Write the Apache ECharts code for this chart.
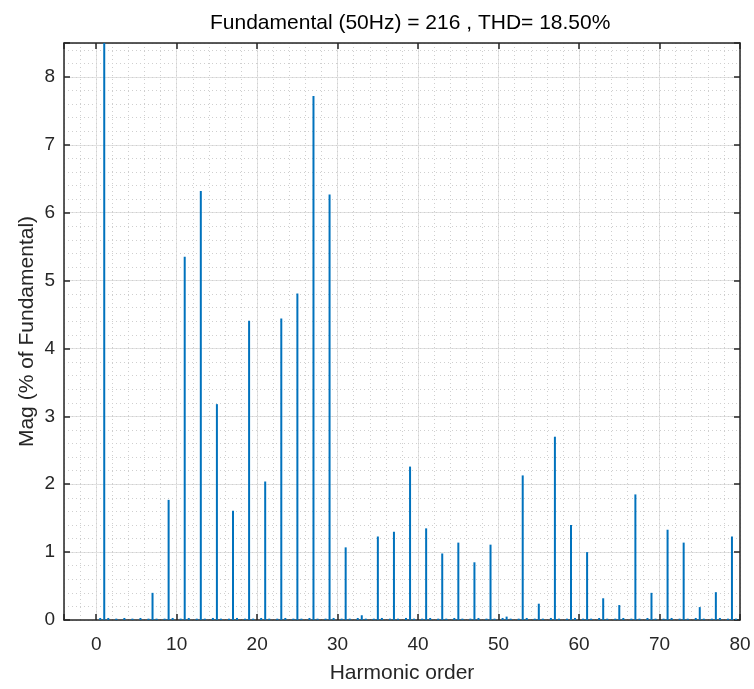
<!DOCTYPE html>
<html>
<head>
  <meta charset="UTF-8">
  <title>Harmonic spectrum</title>
  <script src="https://cdn.jsdelivr.net/npm/echarts@6/dist/echarts.min.js"></script>
  <style>
    body { margin: 0; background: #fff; }
    #chart { width: 754px; height: 689px; }
  </style>
</head>
<body>
<div id="chart"></div>
<script>
  // odd harmonics (order, % of fundamental)
  const harmonicOrders = [1, 7, 9, 11, 13, 15, 17, 19, 21, 23, 25, 27, 29, 31, 33, 35, 37, 39,
    41, 43, 45, 47, 49, 51, 53, 55, 57, 59, 61, 63, 65, 67, 69, 71, 73, 75, 77, 79];
  const harmonicMags = [100, 0.40, 1.77, 5.35, 6.32, 3.18, 1.61, 4.41, 2.04, 4.44, 4.81, 7.72, 6.27, 1.07, 0.07, 1.23, 1.30, 2.26,
    1.35, 0.98, 1.14, 0.85, 1.11, 0.05, 2.13, 0.24, 2.70, 1.40, 1.00, 0.32, 0.22, 1.85, 0.40, 1.33, 1.14, 0.19, 0.41, 1.23];

  // tiny interharmonic components
  const interOrders = [0.5, 1.5, 2.5, 3.5, 4.5, 5.5, 6.5, 7.5, 8.5, 9.5, 10.5, 11.5, 12.5, 13.5, 14.5, 15.5, 16.5, 17.5, 18.5, 19.5,
    20.5, 21.5, 22.5, 23.5, 24.5, 25.5, 26.5, 27.5, 28.5, 29.5, 30.5, 31.5, 32.5, 33.5, 34.5, 35.5, 36.5, 37.5, 38.5, 39.5,
    40.5, 41.5, 42.5, 43.5, 44.5, 45.5, 46.5, 47.5, 48.5, 49.5, 50.5, 51.5, 52.5, 53.5, 54.5, 55.5, 56.5, 57.5, 58.5, 59.5,
    60.5, 61.5, 62.5, 63.5, 64.5, 65.5, 66.5, 67.5, 68.5, 69.5, 70.5, 71.5, 72.5, 73.5, 74.5, 75.5, 76.5, 77.5, 78.5, 79.5];
  const interMags = [0.03, 0.03, 0.02, 0.03, 0.02, 0.03, 0.02, 0.02, 0.02, 0.03, 0.02, 0.03, 0.02, 0.02, 0.03, 0.02, 0.02, 0.03, 0.02, 0.02,
    0.03, 0.02, 0.02, 0.03, 0.02, 0.02, 0.03, 0.02, 0.02, 0.03, 0.02, 0.02, 0.03, 0.02, 0.02, 0.03, 0.02, 0.02, 0.03, 0.02,
    0.02, 0.03, 0.02, 0.02, 0.03, 0.02, 0.02, 0.03, 0.02, 0.02, 0.03, 0.02, 0.02, 0.03, 0.02, 0.02, 0.03, 0.02, 0.02, 0.03,
    0.02, 0.02, 0.03, 0.02, 0.02, 0.03, 0.02, 0.02, 0.03, 0.02, 0.02, 0.03, 0.02, 0.02, 0.03, 0.02, 0.02, 0.03, 0.02, 0.02];

  const titleText = "Fundamental (50Hz) = 216 , THD= 18.50%";
  const xName = "Harmonic order";
  const yName = "Mag (% of Fundamental)";

  const font = "'Liberation Sans', Arial, sans-serif";
  const axisColor = "#262626";

  let barData = harmonicOrders.map((h, i) => [h, harmonicMags[i]])
    .concat(interOrders.map((h, i) => [h, interMags[i]]));

  let chart = echarts.init(document.getElementById("chart"));

  let majorX = {
    type: "value", min: -4, max: 80, minInterval: 10, maxInterval: 10,
    axisLine: { onZero: false, lineStyle: { color: axisColor, width: 1.5 } },
    axisTick: { inside: true, length: 6, lineStyle: { color: axisColor, width: 1.5 } }
  };
  let majorY = {
    type: "value", min: 0, max: 8.5, interval: 1,
    axisLine: { onZero: false, lineStyle: { color: axisColor, width: 1.5 } },
    axisTick: { inside: true, length: 6, lineStyle: { color: axisColor, width: 1.5 } }
  };

  let option = {
    backgroundColor: "#fff",
    animation: false,
    title: {
      text: titleText, left: 205, top: 8,
      textStyle: { fontFamily: font, fontSize: 21, fontWeight: "normal", color: "#000" }
    },
    grid: { left: 64, right: 14, top: 43, bottom: 66, containLabel: false },
    xAxis: [
      Object.assign({}, majorX, {
        position: "bottom",
        name: xName, nameLocation: "middle", nameGap: 43, nameMoveOverlap: false,
        nameTextStyle: { fontFamily: font, fontSize: 21, color: axisColor },
        axisLabel: {
          fontFamily: font, fontSize: 19, color: axisColor, margin: 15,
          formatter: v => (v < 0 ? "" : v)
        },
        splitLine: { show: true, lineStyle: { color: "#e2e2e2", width: 1 } }
      }),
      Object.assign({}, majorX, {
        position: "top",
        axisLabel: { show: false },
        splitLine: { show: false }
      }),
      {
        type: "value", min: -4, max: 80, interval: 2, position: "bottom",
        axisLine: { show: false }, axisTick: { show: false }, axisLabel: { show: false },
        splitLine: { show: true, lineStyle: { color: "#cfcfcf", type: [1, 3], width: 1 } }
      }
    ],
    yAxis: [
      Object.assign({}, majorY, {
        position: "left",
        name: yName, nameLocation: "middle", nameGap: 26, nameMoveOverlap: false,
        nameTextStyle: { fontFamily: font, fontSize: 21, color: axisColor },
        axisLabel: {
          fontFamily: font, fontSize: 19, color: axisColor, margin: 9,
          formatter: v => (v > 8 ? "" : v)
        },
        splitLine: { show: true, lineStyle: { color: "#e2e2e2", width: 1 } }
      }),
      Object.assign({}, majorY, {
        position: "right",
        axisLabel: { show: false },
        splitLine: { show: false }
      }),
      {
        type: "value", min: 0, max: 8.5, interval: 0.2, position: "left",
        axisLine: { show: false }, axisTick: { show: false }, axisLabel: { show: false },
        splitLine: { show: true, lineStyle: { color: "#cfcfcf", type: [1, 3], width: 1 } }
      }
    ],
    series: [{
      type: "bar",
      xAxisIndex: 0,
      yAxisIndex: 0,
      data: barData,
      barWidth: 2,
      clip: true,
      itemStyle: { color: "#0072BD" }
    }]
  };
  chart.setOption(option);
</script>
</body>
</html>
